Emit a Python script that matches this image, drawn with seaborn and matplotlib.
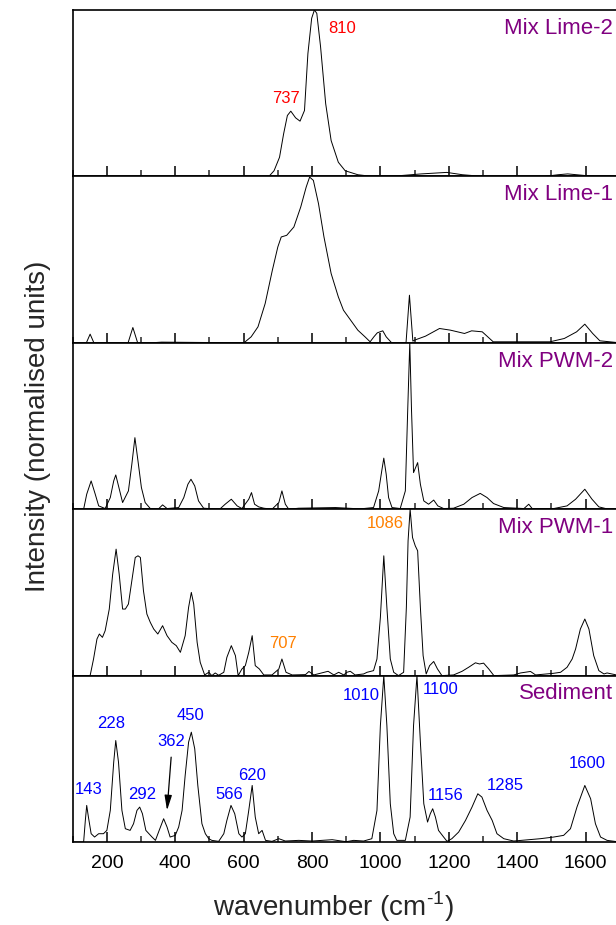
import seaborn as sns
import pandas as pd
import matplotlib.pyplot as plt
from matplotlib.ticker import MultipleLocator

lime2_x = [100, 600, 674, 689, 705, 717, 728, 738, 752, 765, 778, 788, 799, 807, 814, 825, 840, 856,
           877, 897, 934, 976, 1060, 1120, 1194, 1240, 1300, 1480, 1520, 1548, 1600, 1700]
lime2_y = [0, 0, 0, 0.034, 0.115, 0.256, 0.366, 0.392, 0.352, 0.332, 0.396, 0.738, 0.95, 1.0, 0.98,
           0.78, 0.437, 0.215, 0.085, 0.034, 0.01, 0, 0.005, 0.015, 0.024, 0.01, 0, 0, 0.01, 0.015,
           0.005, 0]

lime1_x = [100, 140, 151, 162, 180, 262, 276, 290, 330, 360, 601, 622, 642, 663, 684, 700, 710, 726,
           747, 767, 783, 793, 804, 819, 835, 856, 877, 892, 913, 934, 955, 970, 981, 991, 1007, 1017,
           1033, 1075, 1085, 1095, 1100, 1132, 1173, 1205, 1246, 1267, 1298, 1330, 1496, 1538, 1574,
           1598, 1621, 1642, 1700]
lime1_y = [0, 0, 0.052, 0, 0, 0, 0.092, 0, 0, 0.004, 0, 0.036, 0.096, 0.236, 0.436, 0.576, 0.636,
           0.646, 0.696, 0.816, 0.936, 0.996, 0.976, 0.836, 0.636, 0.416, 0.276, 0.196, 0.136, 0.076,
           0.036, 0.006, 0.036, 0.06, 0.072, 0.036, 0, 0, 0.286, 0.01, 0.016, 0.04, 0.086, 0.076, 0.056,
           0.072, 0.066, 0.006, 0.006, 0.026, 0.066, 0.112, 0.056, 0.012, 0]

pwm2_x = [100, 132, 141, 154, 166, 176, 195, 210, 220, 226, 234, 246, 263, 273, 282, 291, 301, 312,
          327, 350, 363, 376, 410, 425, 437, 446, 457, 468, 483, 530, 546, 564, 581, 595, 615, 623,
          632, 644, 659, 683, 703, 712, 722, 732, 761, 869, 941, 980, 995, 1004, 1010, 1017, 1024,
          1034, 1058, 1073, 1080, 1086, 1091, 1097, 1103, 1109, 1117, 1127, 1141, 1156, 1168, 1185,
          1214, 1244, 1268, 1292, 1312, 1331, 1361, 1420, 1434, 1444, 1507, 1546, 1571, 1598, 1619,
          1639, 1663, 1700]
pwm2_y = [0, 0, 0.09, 0.17, 0.09, 0.02, 0.004, 0.07, 0.17, 0.206, 0.14, 0.04, 0.11, 0.27, 0.43, 0.29,
          0.13, 0.04, 0.004, 0, 0.026, 0.004, 0.01, 0.07, 0.15, 0.18, 0.14, 0.05, 0.006, 0, 0.03,
          0.06, 0.02, 0.004, 0.06, 0.1, 0.03, 0.014, 0.006, 0, 0.04, 0.11, 0.03, 0, 0.006, 0.01,
          0.002, 0.01, 0.11, 0.23, 0.307, 0.21, 0.07, 0.01, 0.004, 0.11, 0.6, 1.0, 0.6, 0.22, 0.25,
          0.28, 0.15, 0.05, 0.03, 0.055, 0.02, 0.004, 0.006, 0.03, 0.07, 0.095, 0.07, 0.034, 0.01,
          0.004, 0.03, 0.004, 0.004, 0.02, 0.06, 0.12, 0.06, 0.014, 0.002, 0]

pwm1_x = [100, 151, 161, 171, 178, 187, 195, 207, 217, 227, 236, 246, 254, 263, 273, 283, 291, 298,
          307, 317, 327, 337, 349, 363, 376, 390, 403, 415, 429, 439, 447, 454, 464, 473, 486, 498,
          507, 517, 527, 542, 551, 564, 576, 584, 595, 605, 615, 625, 634, 646, 659, 683, 703, 712,
          724, 742, 781, 791, 805, 847, 864, 878, 893, 902, 912, 926, 951, 961, 980, 990, 1000, 1010,
          1019, 1029, 1039, 1053, 1068, 1076, 1081, 1087, 1094, 1102, 1109, 1117, 1125, 1134, 1144,
          1156, 1167, 1180, 1214, 1239, 1258, 1278, 1290, 1302, 1317, 1332, 1390, 1410, 1439, 1454,
          1507, 1527, 1546, 1561, 1571, 1585, 1598, 1610, 1624, 1639, 1654, 1663, 1700]
pwm1_y = [0, 0, 0.1, 0.22, 0.25, 0.23, 0.27, 0.4, 0.61, 0.76, 0.61, 0.4, 0.4, 0.43, 0.57, 0.71, 0.72,
          0.71, 0.51, 0.37, 0.32, 0.28, 0.25, 0.3, 0.24, 0.2, 0.18, 0.14, 0.24, 0.41, 0.5, 0.43, 0.2,
          0.08, 0.004, 0.02, 0, 0.016, 0.002, 0.02, 0.11, 0.18, 0.12, 0, 0.04, 0.06, 0.14, 0.24,
          0.06, 0.04, 0.004, 0.004, 0.04, 0.1, 0.02, 0.004, 0.006, 0.025, 0.004, 0.026, 0.004, 0.02,
          0.004, 0.02, 0.026, 0.004, 0.01, 0.02, 0.03, 0.1, 0.35, 0.72, 0.41, 0.1, 0.02, 0, 0.02,
          0.41, 0.81, 1.0, 0.83, 0.78, 0.75, 0.41, 0.12, 0.01, 0.06, 0.085, 0.04, 0, 0.004, 0.026,
          0.05, 0.077, 0.07, 0.075, 0.04, 0, 0.004, 0.016, 0.025, 0.004, 0.014, 0.02, 0.05, 0.1,
          0.16, 0.28, 0.34, 0.28, 0.12, 0.03, 0.01, 0.016, 0]

sed_x = [100, 132, 137, 141, 146, 154, 164, 176, 190, 200, 210, 220, 226, 234, 244, 254, 268, 278,
         288, 296, 304, 314, 332, 342, 353, 366, 376, 385, 400, 410, 420, 429, 439, 447, 457, 466,
         478, 488, 498, 507, 527, 542, 551, 563, 574, 586, 595, 605, 615, 625, 634, 644, 654, 664,
         683, 703, 722, 761, 800, 859, 900, 922, 951, 975, 990, 1000, 1010, 1019, 1029, 1039, 1048,
         1073, 1087, 1097, 1107, 1117, 1127, 1138, 1146, 1153, 1161, 1170, 1185, 1195, 1209, 1229,
         1249, 1268, 1285, 1297, 1312, 1327, 1341, 1361, 1390, 1468, 1507, 1536, 1556, 1575, 1598,
         1615, 1629, 1644, 1663, 1700]
sed_y = [0, 0, 0.13, 0.22, 0.15, 0.05, 0.03, 0.05, 0.05, 0.07, 0.19, 0.48, 0.61, 0.48, 0.19, 0.08,
         0.07, 0.11, 0.19, 0.21, 0.17, 0.07, 0.03, 0.01, 0.07, 0.14, 0.09, 0.03, 0.04, 0.09, 0.19, 0.4,
         0.6, 0.66, 0.56, 0.34, 0.11, 0.05, 0.02, 0.01, 0.004, 0.05, 0.13, 0.22, 0.17, 0.05, 0.03,
         0.05, 0.19, 0.34, 0.15, 0.05, 0.07, 0.01, 0.004, 0.02, 0.006, 0.01, 0.006, 0.014, 0.002,
         0.01, 0.006, 0.02, 0.19, 0.7, 1.0, 0.7, 0.23, 0.05, 0.01, 0.01, 0.15, 0.7, 1.0, 0.6, 0.23,
         0.12, 0.17, 0.2, 0.15, 0.07, 0.03, 0.004, 0.02, 0.06, 0.13, 0.21, 0.29, 0.27, 0.19, 0.13,
         0.05, 0.02, 0.006, 0.02, 0.03, 0.04, 0.08, 0.21, 0.34, 0.26, 0.11, 0.03, 0.01, 0]

samples = ["Mix Lime-2", "Mix Lime-1", "Mix PWM-2", "Mix PWM-1", "Sediment"]
spectra = [(lime2_x, lime2_y), (lime1_x, lime1_y), (pwm2_x, pwm2_y), (pwm1_x, pwm1_y), (sed_x, sed_y)]

# peak labels: (panel, text, x, y, colour)
peaks = [
    (0, "737", 725, 0.47, "#ff0000"), (0, "810", 887, 0.89, "#ff0000"),
    (3, "1086", 1014, 0.915, "#ff8000"), (3, "707", 714, 0.193, "#ff8000"),
    (4, "143", 148, 0.316, "#0000ff"), (4, "228", 213, 0.714, "#0000ff"),
    (4, "292", 302, 0.286, "#0000ff"), (4, "362", 387, 0.602, "#0000ff"),
    (4, "450", 444, 0.761, "#0000ff"), (4, "566", 558, 0.286, "#0000ff"),
    (4, "620", 625, 0.402, "#0000ff"), (4, "1010", 944, 0.878, "#0000ff"),
    (4, "1100", 1175, 0.918, "#0000ff"), (4, "1156", 1190, 0.28, "#0000ff"),
    (4, "1285", 1365, 0.337, "#0000ff"), (4, "1600", 1605, 0.473, "#0000ff"),
]


def main():
    sns.set_style("ticks")
    plt.rcParams['font.family'] = ['Liberation Sans', 'DejaVu Sans']
    plt.rcParams['mathtext.fontset'] = 'custom'
    plt.rcParams['mathtext.rm'] = 'Liberation Sans'

    fig, axes = plt.subplots(5, 1, sharex=True, figsize=(6.16, 9.25), dpi=100)
    fig.subplots_adjust(left=0.118, right=1.006, bottom=0.0897, top=0.9892, hspace=0)

    for i, ax in enumerate(axes):
        df = pd.DataFrame({"x": spectra[i][0], "y": spectra[i][1]})
        sns.lineplot(data=df, x="x", y="y", ax=ax, color="black", linewidth=0.7, sort=False)
        ax.set_xlim(100, 1700)
        ax.set_ylim(0, 1.0)
        ax.set(xlabel="", ylabel="")
        ax.set_yticks([])
        ax.xaxis.set_major_locator(MultipleLocator(200))
        ax.xaxis.set_minor_locator(MultipleLocator(100))
        ax.tick_params(axis='x', which='major', direction='in', length=7, width=1.1,
                       labelsize=14, pad=9, colors='black')
        ax.tick_params(axis='x', which='minor', direction='in', length=4, width=1.1)
        for sp in ax.spines.values():
            sp.set_linewidth(1.2)
            sp.set_color("black")
        # keep the sample name just inside the figure edge
        ax.text(0.988, 0.89, samples[i], transform=ax.transAxes, ha='right', va='center',
                fontsize=16, color="#800080")

    for p, txt, x, y, c in peaks:
        axes[p].text(x, y, txt, ha='center', va='center', fontsize=12, color=c)

    axes[4].annotate("", xy=(376, 0.19), xytext=(388, 0.51),
                     arrowprops=dict(arrowstyle='-|>,head_length=0.9,head_width=0.22',
                                     color='black', lw=0.9, shrinkA=0, shrinkB=0))

    fig.text(0.542, 0.0195, r"wavenumber (cm$^{\text{-1}}$)", ha='center', va='center',
             fontsize=20)
    fig.text(0.062, 0.539, "Intensity (normalised units)", ha='center', va='center',
             rotation=90, fontsize=20)

    plt.savefig("out.png", dpi=100)


if __name__ == "__main__":
    main()
